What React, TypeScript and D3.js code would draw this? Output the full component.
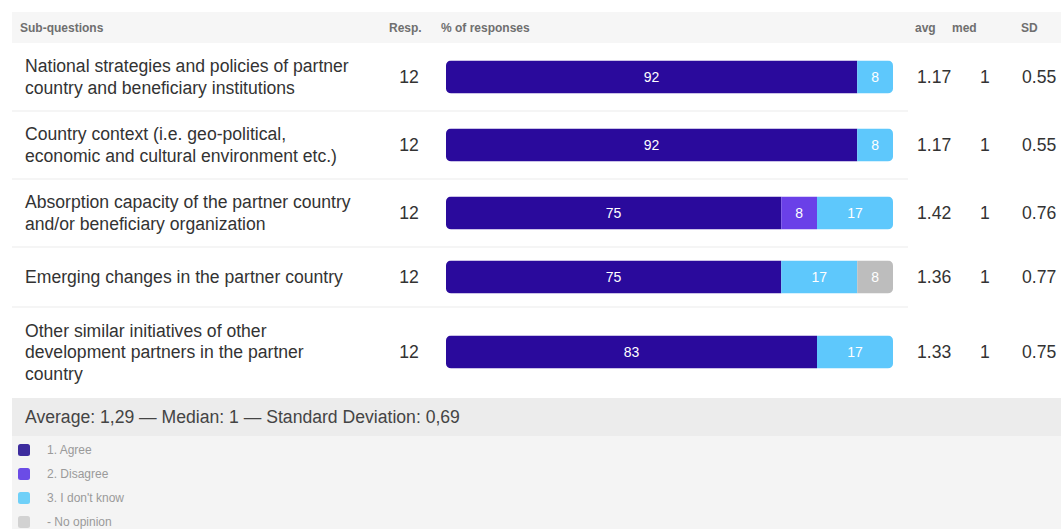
import React from "react";
import * as d3 from "d3";

const questions: string[][] = [
  ["National strategies and policies of partner", "country and beneficiary institutions"],
  ["Country context (i.e. geo-political,", "economic and cultural environment etc.)"],
  ["Absorption capacity of the partner country", "and/or beneficiary organization"],
  ["Emerging changes in the partner country"],
  ["Other similar initiatives of other", "development partners in the partner", "country"],
];
const responses = [12, 12, 12, 12, 12];
const agree = [92, 92, 75, 75, 83];
const disagree = [0, 0, 8, 0, 0];
const dontKnow = [8, 8, 17, 17, 17];
const noOpinion = [0, 0, 0, 8, 0];
const avgs = ["1.17", "1.17", "1.42", "1.36", "1.33"];
const meds = ["1", "1", "1", "1", "1"];
const sds = ["0.55", "0.55", "0.76", "0.77", "0.75"];
const headers = ["Sub-questions", "Resp.", "% of responses", "avg", "med", "SD"];
const legendLabels = ["1. Agree", "2. Disagree", "3. I don't know", "- No opinion"];
const summary = "Average: 1,29 — Median: 1 — Standard Deviation: 0,69";

const seriesColors = ["#2a0a9c", "#6a40e8", "#5ec8fc", "#bdbdbd"];
const legendColors = ["#3d2c9e", "#6b4ce6", "#6fd0f8", "#d2d2d2"];

const W = 1061;
const H = 529;
const FONT = "'Liberation Sans', Arial, Helvetica, sans-serif";

export default function App() {
  const x = d3.scaleLinear().domain([0, 100]).range([446, 893]);
  const headerTop = 12;
  const headerBottom = 43;
  const lineH = 21.5;
  const heights = questions.map((q) => Math.max(60, 24 + 22 * q.length));
  const tops: number[] = [];
  let acc = headerBottom;
  heights.forEach((h) => {
    tops.push(acc);
    acc += h;
  });
  const tableBottom = acc;
  const series = [agree, disagree, dontKnow, noOpinion];
  const barH = 33;
  const fs = 17.6;

  const headerX = [20, 389, 441, 915, 952, 1021];

  return (
    <div style={{ position: "absolute", left: 0, top: 0 }}>
      <svg width={W} height={H} style={{ display: "block", fontFamily: FONT }}>
        <rect x={0} y={0} width={W} height={H} fill="#ffffff" />
        {/* header */}
        <rect x={12} y={headerTop} width={W - 12} height={headerBottom - headerTop} fill="#f6f6f6" />
        {headers.map((h, i) => (
          <text key={h} x={headerX[i]} y={32} fontSize={12} fontWeight="bold" fill="#6f6f6f">
            {h}
          </text>
        ))}
        {/* rows */}
        {questions.map((q, r) => {
          const top = tops[r];
          const h = heights[r];
          const cy = top + h / 2;
          const firstBase = cy - ((q.length - 1) * lineH) / 2 + 6;
          let cum = 0;
          const segs = series.map((s, si) => {
            const v = s[r];
            const seg = { si, v, x0: cum, x1: cum + v };
            cum += v;
            return seg;
          }).filter((s) => s.v > 0);
          const by = cy - barH / 2;
          const clipId = `clip-${r}`;
          return (
            <g key={r}>
              {r < questions.length - 1 && (
                <line x1={12} x2={908} y1={top + h} y2={top + h} stroke="#ebebeb" strokeWidth={1.2} />
              )}
              <text fontSize={fs} fill="#333">
                {q.map((line, li) => (
                  <tspan key={li} x={25} y={firstBase + li * lineH}>
                    {line}
                  </tspan>
                ))}
              </text>
              <text x={409} y={cy + 6} fontSize={fs} fill="#333" textAnchor="middle">
                {responses[r]}
              </text>
              <clipPath id={clipId}>
                <rect x={x(0)} y={by} width={x(100) - x(0)} height={barH} rx={5} ry={5} />
              </clipPath>
              <g clipPath={`url(#${clipId})`}>
                {segs.map((s) => (
                  <rect key={s.si} x={x(s.x0)} y={by} width={x(s.x1) - x(s.x0)} height={barH} fill={seriesColors[s.si]} />
                ))}
              </g>
              {segs.map((s) => (
                <text
                  key={`t${s.si}`}
                  x={(x(s.x0) + x(s.x1)) / 2}
                  y={cy + 5}
                  fontSize={14}
                  fill="#ffffff"
                  textAnchor="middle"
                >
                  {s.v}
                </text>
              ))}
              <text x={917} y={cy + 6} fontSize={fs} fill="#333">
                {avgs[r]}
              </text>
              <text x={985} y={cy + 6} fontSize={fs} fill="#333" textAnchor="middle">
                {meds[r]}
              </text>
              <text x={1022} y={cy + 6} fontSize={fs} fill="#333">
                {sds[r]}
              </text>
            </g>
          );
        })}
        {/* footer */}
        <rect x={12} y={tableBottom + 1} width={W - 12} height={H - tableBottom - 1} fill="#f4f4f4" />
        <rect x={12} y={tableBottom + 1} width={W - 12} height={38} fill="#ececec" />
        <text x={25} y={tableBottom + 26} fontSize={fs} fill="#444">
          {summary}
        </text>
        {legendLabels.map((l, i) => {
          const cy = 450 + i * 24;
          return (
            <g key={l}>
              <rect x={18} y={cy - 6} width={12} height={12} rx={2.5} fill={legendColors[i]} />
              <text x={47} y={cy + 4} fontSize={12} fill="#9a9a9a">
                {l}
              </text>
            </g>
          );
        })}
      </svg>
    </div>
  );
}
